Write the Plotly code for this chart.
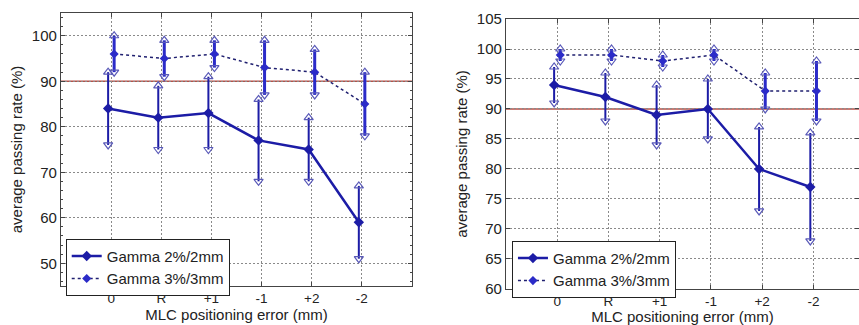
import plotly.graph_objects as go

categories = ["0", "R", "+1", "-1", "+2", "-2"]

# Left panel
left_g2_mean = [84, 82, 83, 77, 75, 59]
left_g2_hi = [92, 89, 91, 86, 82, 67]
left_g2_lo = [76, 75, 75, 68, 68, 51]
left_g3_mean = [96, 95, 96, 93, 92, 85]
left_g3_hi = [100, 99, 99, 99, 97, 92]
left_g3_lo = [92, 91, 93, 87, 87, 78]

# Right panel
right_g2_mean = [94, 92, 89, 90, 80, 77]
right_g2_hi = [97, 96, 94, 95, 87, 86]
right_g2_lo = [91, 88, 84, 85, 73, 68]
right_g3_mean = [99, 99, 98, 99, 93, 93]
right_g3_hi = [100, 100, 99, 100, 96, 98]
right_g3_lo = [98, 98, 97, 98, 90, 88]

threshold = 90

BLUE = "#1c1ca6"
BLUE3 = "#2b2bc8"
CAP = "#5a5ab8"
RED = "#b55048"
FONT = "Liberation Sans, Arial, sans-serif"

fig = go.Figure()

def add_panel(xa, ya, legend, g2m, g2h, g2l, g3m, g3h, g3l):
    idx = list(range(len(categories)))
    off = 0.06
    x2 = [i - off for i in idx]
    x3 = [i + off for i in idx]
    fig.add_shape(type="line", xref=f"{xa} domain", yref=ya, x0=0, x1=1,
                  y0=threshold, y1=threshold, line=dict(color=RED, width=1.5), layer="below")
    for xs, hi, lo, col, w in [(x2, g2h, g2l, BLUE, 2), (x3, g3h, g3l, BLUE3, 3)]:
        ex, ey = [], []
        for x, h, l in zip(xs, hi, lo):
            ex += [x, x, None]
            ey += [l, h, None]
        fig.add_trace(go.Scatter(x=ex, y=ey, mode="lines", line=dict(color=col, width=w),
                                 xaxis=xa, yaxis=ya, showlegend=False, hoverinfo="skip"))
        fig.add_trace(go.Scatter(x=xs, y=hi, mode="markers",
                                 marker=dict(symbol="triangle-up-open", size=8, color=CAP, line=dict(width=1.2)),
                                 xaxis=xa, yaxis=ya, showlegend=False, hoverinfo="skip"))
        fig.add_trace(go.Scatter(x=xs, y=lo, mode="markers",
                                 marker=dict(symbol="triangle-down-open", size=8, color=CAP, line=dict(width=1.2)),
                                 xaxis=xa, yaxis=ya, showlegend=False, hoverinfo="skip"))
    fig.add_trace(go.Scatter(x=x2, y=g2m, mode="lines+markers", name="Gamma 2%/2mm",
                             line=dict(color=BLUE, width=2.5),
                             marker=dict(symbol="diamond", size=8, color=BLUE),
                             xaxis=xa, yaxis=ya, legend=legend))
    fig.add_trace(go.Scatter(x=x3, y=g3m, mode="lines+markers", name="Gamma 3%/3mm",
                             line=dict(color="#202070", width=1.5, dash="dot"),
                             marker=dict(symbol="diamond", size=7, color=BLUE3),
                             xaxis=xa, yaxis=ya, legend=legend))

add_panel("x", "y", "legend", left_g2_mean, left_g2_hi, left_g2_lo, left_g3_mean, left_g3_hi, left_g3_lo)
add_panel("x2", "y2", "legend2", right_g2_mean, right_g2_hi, right_g2_lo, right_g3_mean, right_g3_hi, right_g3_lo)

axis_common = dict(showline=True, linecolor="#444", linewidth=1.2, mirror="ticks",
                   ticks="inside", ticklen=4, tickcolor="#444", automargin=False,
                   showgrid=True, gridcolor="#8a8a8a", griddash="2px,2px", gridwidth=1,
                   zeroline=False, tickfont=dict(size=15, color="#222", family=FONT))

xtitle = dict(text="MLC positioning error (mm)", font=dict(size=15, color="#222", family=FONT), standoff=3)
ytitle = dict(text="average passing rate (%)", font=dict(size=15, color="#222", family=FONT), standoff=5)

xtick_extra = dict(tickfont=dict(size=13.5, color="#222", family=FONT))
ax_x = {**axis_common, **xtick_extra}

fig.update_layout(
    width=859, height=325,
    margin=dict(l=0, r=0, t=0, b=0, autoexpand=False),
    paper_bgcolor="white", plot_bgcolor="white",
    font=dict(family=FONT, color="#222"),
    xaxis=dict(domain=[0.071, 0.4796], range=[-1, 6], tickvals=list(range(len(categories))),
               ticktext=categories, anchor="y", title=xtitle, **ax_x),
    yaxis=dict(domain=[0.12, 0.96], range=[45, 105], dtick=10, anchor="x", title=ytitle,
               minor=dict(ticks="inside", ticklen=2, dtick=2, tickcolor="#444", showgrid=False),
               **axis_common),
    xaxis2=dict(domain=[0.589, 1.0], range=[-1, 5.89], tickvals=list(range(len(categories))),
                ticktext=categories, anchor="y2", title=xtitle, **ax_x),
    yaxis2=dict(domain=[0.111, 0.9415], range=[60, 105], dtick=5, anchor="x2", title=ytitle,
                **axis_common),
    legend=dict(x=0.0765, y=0.2655, xanchor="left", yanchor="top", bordercolor="#222", borderwidth=1,
                bgcolor="white", font=dict(size=15, family=FONT, color="#222"),
                tracegroupgap=0, itemwidth=30),
    legend2=dict(x=0.596, y=0.259, xanchor="left", yanchor="top", bordercolor="#222", borderwidth=1,
                 bgcolor="white", font=dict(size=15, family=FONT, color="#222"),
                 tracegroupgap=0, itemwidth=30),
    showlegend=True,
)

fig.write_html("out.html", config={"displayModeBar": False},
               post_script="document.body.style.margin='0';document.body.style.padding='0';")
